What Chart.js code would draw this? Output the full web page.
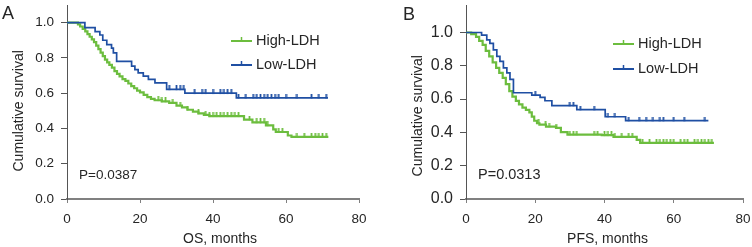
<!DOCTYPE html>
<html>
<head>
<meta charset="utf-8">
<script src="https://cdn.jsdelivr.net/npm/chart.js@4.4.1/dist/chart.umd.min.js"></script>
<style>
  html, body { margin: 0; padding: 0; background: #fff; }
  #wrap { position: relative; width: 752px; height: 247px; }
  canvas { position: absolute; top: 0; }
</style>
</head>
<body>
<div id="wrap">
  <canvas id="chartA" width="376" height="247" style="left:0"></canvas>
  <canvas id="chartB" width="376" height="247" style="left:376px"></canvas>
</div>
<script>
// series labels
const seriesNames = ['High-LDH', 'Low-LDH'];
const yTickValues = [0, 0.2, 0.4, 0.6, 0.8, 1.0];

// panel A - OS
const osHighT = [0, 3, 3.6, 4.3, 5, 5.6, 6.2, 6.8, 7.4, 8, 8.6, 9.2, 9.8, 10.4, 11, 11.6, 12.3, 13, 13.7, 14.4, 15.2, 16, 16.8, 17.6, 18.4, 19.2, 20, 21, 22, 23, 24, 26, 28, 30, 31.5, 33, 34.5, 36, 37.5, 39, 48.5, 50.8, 54.5, 56.5, 57.2, 60.5, 61.5, 71.6];
const osHighS = [1, 0.99, 0.978, 0.965, 0.95, 0.935, 0.92, 0.905, 0.89, 0.87, 0.85, 0.83, 0.81, 0.79, 0.775, 0.76, 0.745, 0.725, 0.71, 0.695, 0.68, 0.67, 0.655, 0.64, 0.628, 0.615, 0.605, 0.59, 0.578, 0.568, 0.56, 0.553, 0.545, 0.53, 0.52, 0.506, 0.495, 0.485, 0.477, 0.47, 0.45, 0.434, 0.418, 0.395, 0.38, 0.36, 0.352, 0.352];
const osHighCens = [25, 26, 27, 29, 31, 33, 36, 38, 39, 40, 41, 42, 43, 44, 45, 46, 47, 50, 52, 53, 54, 55, 58, 59, 63, 65, 67, 68, 69, 70, 71];
const osLowT = [0, 4.9, 7.7, 9, 9.8, 10.9, 12.2, 12.7, 13.6, 17.7, 18.6, 19.5, 20.9, 22.3, 24.1, 27.3, 32.3, 46.4, 71.5];
const osLowS = [1, 0.972, 0.949, 0.93, 0.9, 0.875, 0.856, 0.828, 0.78, 0.753, 0.734, 0.715, 0.697, 0.678, 0.659, 0.622, 0.6, 0.573, 0.573];
const osLowCens = [28, 30, 31, 32, 35, 37, 38, 40, 42, 43, 44, 45, 47, 49, 51, 52, 53, 54, 55, 56, 57, 58, 60, 63, 67, 69, 71];

// panel B - PFS
const pfsHighT = [0, 1.5, 2.9, 3.8, 4.8, 5.7, 6.7, 7.7, 8.7, 9.6, 10.6, 11.5, 12.5, 13.4, 14.4, 15.3, 16.3, 17.3, 18.3, 19, 19.7, 20.5, 21.2, 23.1, 26, 27.4, 29.3, 39.2, 42.6, 49.3, 50.3, 71.6];
const pfsHighS = [1, 0.99, 0.974, 0.95, 0.925, 0.89, 0.856, 0.82, 0.787, 0.757, 0.727, 0.69, 0.648, 0.615, 0.589, 0.568, 0.549, 0.535, 0.52, 0.495, 0.47, 0.455, 0.447, 0.435, 0.427, 0.401, 0.387, 0.383, 0.373, 0.355, 0.337, 0.337];
const pfsHighCens = [21, 23, 24, 26, 30, 31, 32, 37, 38, 40, 41, 42, 43, 45, 47, 48, 51, 53, 55, 56, 57, 58, 59, 60, 62, 63, 64, 66, 67, 68, 69, 70, 71];
const pfsLowT = [0, 4.5, 6, 6.9, 7.9, 8.9, 9.8, 10.8, 11.8, 12.7, 13.7, 19, 21.4, 22.8, 24.8, 32, 40.2, 46.1, 70];
const pfsLowS = [1, 0.984, 0.955, 0.935, 0.896, 0.856, 0.826, 0.787, 0.757, 0.718, 0.638, 0.624, 0.61, 0.59, 0.561, 0.537, 0.494, 0.471, 0.471];
const pfsLowCens = [20, 30, 31, 33, 37, 41, 43, 47, 50, 52, 54, 56, 57, 60, 63, 69];

const GREEN = '#6cbd3e';
const BLUE = '#1f4fa3';
const TEXT = '#262626';
const FONT = "'Liberation Sans', Arial, sans-serif";

// survival value at time t from a step curve
function survAt(ts, ss, t) {
  let v = ss[0];
  for (let i = 0; i < ts.length; i++) { if (ts[i] <= t) v = ss[i]; }
  return v;
}

// small upward tick used for censored marks
function tickMark(color, w) {
  const c = document.createElement('canvas');
  c.width = 3; c.height = 8;
  const g = c.getContext('2d');
  g.strokeStyle = color; g.lineWidth = w;
  g.beginPath(); g.moveTo(1.5, 0); g.lineTo(1.5, 4.5); g.stroke();
  return c;
}

const decorPlugin = {
  id: 'decor',
  afterDraw(chart, args, o) {
    const ctx = chart.ctx, ca = chart.chartArea;
    const ys = chart.scales.y;
    ctx.save();
    ctx.fillStyle = TEXT;
    // panel letter
    ctx.font = '18px ' + FONT;
    ctx.textAlign = 'center'; ctx.textBaseline = 'middle';
    ctx.fillText(o.letter, o.letterX, o.letterY);
    // axis titles
    ctx.font = '14px ' + FONT;
    ctx.fillText(o.xTitle, (ca.left + ca.right) / 2 + o.xTitleShift, 239);
    ctx.save();
    ctx.translate(ca.left - 48, (ys.getPixelForValue(0) + ys.getPixelForValue(1)) / 2);
    ctx.rotate(-Math.PI / 2);
    ctx.fillText('Cumulative survival', 0, 0);
    ctx.restore();
    // p value
    ctx.textAlign = 'left';
    ctx.font = o.pFont + 'px ' + FONT;
    ctx.fillText(o.pText, o.pX, 175);
    // legend
    ctx.font = '14.5px ' + FONT;
    const cols = [GREEN, BLUE];
    o.legendY.forEach((ly, i) => {
      ctx.strokeStyle = cols[i]; ctx.lineWidth = 2;
      ctx.beginPath(); ctx.moveTo(o.legendX, ly); ctx.lineTo(o.legendX + 21, ly); ctx.stroke();
      ctx.lineWidth = 1.5;
      ctx.beginPath(); ctx.moveTo(o.legendX + 10.5, ly); ctx.lineTo(o.legendX + 10.5, ly - 4); ctx.stroke();
      ctx.fillText(seriesNames[i], o.legendX + 25, ly);
    });
    ctx.restore();
  }
};

function makePanel(id, p) {
  const curve = (ts, ss, color, w) => ({
    type: 'line',
    data: ts.map((t, i) => ({ x: t, y: ss[i] })),
    borderColor: color, borderWidth: w, stepped: 'before',
    pointRadius: 0, fill: false
  });
  const cens = (cs, ts, ss, color) => ({
    type: 'scatter',
    data: cs.map(t => ({ x: t, y: survAt(ts, ss, t) })),
    pointStyle: tickMark(color, 1.8),
    pointRadius: 4
  });
  new Chart(document.getElementById(id), {
    data: {
      datasets: [
        cens(p.lowCens, p.lowT, p.lowS, BLUE),
        curve(p.lowT, p.lowS, BLUE, 1.7),
        cens(p.highCens, p.highT, p.highS, GREEN),
        curve(p.highT, p.highS, GREEN, 2.2)
      ]
    },
    options: {
      responsive: false,
      animation: false,
      events: [],
      layout: { padding: { top: 3, right: p.padRight, left: 0, bottom: 0 } },
      plugins: {
        legend: { display: false },
        tooltip: { enabled: false },
        decor: p.decor
      },
      scales: {
        x: {
          type: 'linear', min: 0, max: 80,
          ticks: { stepSize: 20, padding: 8, color: TEXT, font: { family: FONT, size: 13.5 } },
          grid: { drawOnChartArea: false, tickLength: 4, color: '#808080' },
          border: { color: '#808080', width: 2 },
          afterFit(s) { s.height = 48; s.paddingLeft = 0; s.paddingRight = 0; }
        },
        y: {
          min: 0, max: p.yMax,
          afterBuildTicks(s) { s.ticks = yTickValues.map(v => ({ value: v })); },
          ticks: { padding: 7, color: TEXT, font: { family: FONT, size: p.yTickSize }, callback: v => v.toFixed(1) },
          grid: { drawOnChartArea: false, tickLength: 6, color: '#555' },
          border: { color: '#555', width: 1 },
          afterFit(s) { s.width = p.yWidth; s.paddingTop = 0; s.paddingBottom = 0; }
        }
      }
    },
    plugins: [decorPlugin]
  });
}

makePanel('chartA', {
  highT: osHighT, highS: osHighS, highCens: osHighCens,
  lowT: osLowT, lowS: osLowS, lowCens: osLowCens,
  yMax: 1.1, yWidth: 67, padRight: 17, yTickSize: 13.5,
  decor: { letter: 'A', letterX: 8, letterY: 14, xTitle: 'OS, months', xTitleShift: 7,
    pText: 'P=0.0387', pX: 79, pFont: 13.5, legendX: 231, legendY: [41, 65] }
});

makePanel('chartB', {
  highT: pfsHighT, highS: pfsHighS, highCens: pfsHighCens,
  lowT: pfsLowT, lowS: pfsLowS, lowCens: pfsLowCens,
  yMax: 1.165, yWidth: 90, padRight: 9, yTickSize: 16,
  decor: { letter: 'B', letterX: 33, letterY: 15, xTitle: 'PFS, months', xTitleShift: 3,
    pText: 'P=0.0313', pX: 102, pFont: 14.5, legendX: 237, legendY: [44, 69] }
});
</script>
</body>
</html>
